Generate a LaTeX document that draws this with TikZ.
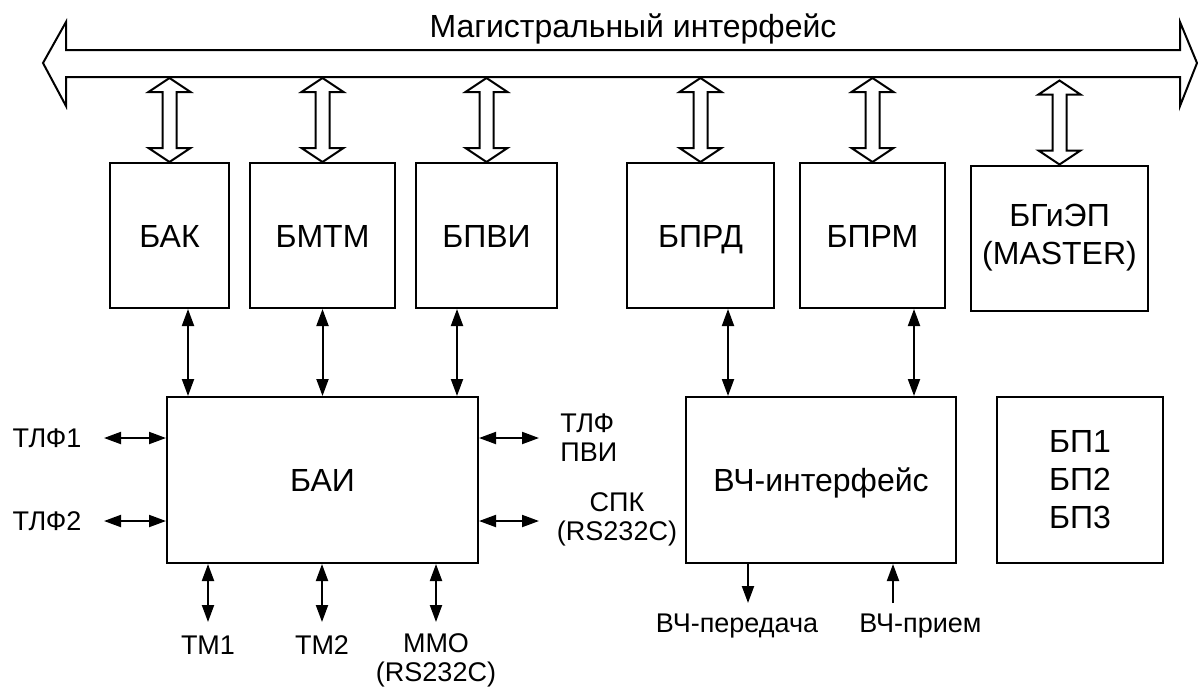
\documentclass[tikz,border=0pt]{standalone}
\usepackage{fontspec}
\setmainfont{Liberation Sans}
\usetikzlibrary{arrows.meta}

\begin{document}
\begin{tikzpicture}[x=0.5pt,y=-0.5pt,
  >={Triangle[length=8.5pt,width=6pt]},
  block/.style={draw,line width=1pt,font=\fontsize{16}{19}\selectfont,align=center,inner sep=0pt},
  top/.style={block,minimum width=#1*0.5pt,minimum height=72.5pt},
  low/.style={block,minimum width=#1*0.5pt,minimum height=83pt},
  one/.style={text height=11.5pt,text depth=0pt},
  lbl/.style={font=\fontsize{13.5}{14.5}\selectfont,align=center,inner sep=0pt},
  link/.style={line width=1pt},
  hollow/.style={draw,line width=1pt,fill=white,line join=miter},
  ]
  \useasboundingbox (0,0) rectangle (1198,687);
  \draw[hollow] (43,63) -- (66,22) -- (66,50) -- (1180,50) -- (1180,22) -- (1197,63)
    -- (1180,106) -- (1180,77) -- (66,77) -- (66,106) -- cycle;
  \node[font=\fontsize{16}{19}\selectfont,anchor=base] (bustitle) at (633,37) {Магистральный интерфейс};

  \node[top=119,one] (bak) at (169.5,235.5) {БАК};
  \node[top=145,one] (bmtm) at (322.5,235.5) {БМТМ};
  \node[top=141,one] (bpvi) at (486.5,235.5) {БПВИ};
  \node[top=147,one] (bprd) at (700.5,235.5) {БПРД};
  \node[top=145,one] (bprm) at (872.5,235.5) {БПРМ};
  \node[top=177] (bgep) at (1059.5,238) {БГиЭП\\(MASTER)};

  \node[low=311,one] (bai) at (322.5,480) {БАИ};
  \node[low=270,one] (vch) at (821,480) {ВЧ-интерфейс};
  \node[low=166] (bp) at (1080,480) {БП1\\БП2\\БП3};

  \foreach \b in {bak,bmtm,bpvi,bprd,bprm,bgep}
    \draw[hollow] (\b.north) -- ++(21,-14) -- ++(-14,0) -- ++(0,-56) -- ++(14,0) -- ++(-21,-14)
      -- ++(-21,14) -- ++(14,0) -- ++(0,56) -- ++(-14,0) -- cycle;

  \coordinate (c1) at (188,0);
  \coordinate (c2) at (457,0);
  \coordinate (c3) at (728,0);
  \coordinate (c4) at (914,0);
  \draw[link,<->] (bak.south -| c1) -- (bai.north -| c1);
  \draw[link,<->] (bmtm.south) -- (bmtm.south |- bai.north);
  \draw[link,<->] (bpvi.south -| c2) -- (bai.north -| c2);
  \draw[link,<->] (bprd.south -| c3) -- (vch.north -| c3);
  \draw[link,<->] (bprm.south -| c4) -- (vch.north -| c4);

  \node[lbl] (tlf1) at (47,438) {ТЛФ1};
  \node[lbl] (tlf2) at (47,521) {ТЛФ2};
  \node[lbl,anchor=west,align=left] (tlfpvi) at (560,437.5) {ТЛФ\\ПВИ};
  \node[lbl] (spk) at (617,519) {СПК\\(RS232C)};
  \node[lbl] (tm1) at (208,645) {ТМ1};
  \node[lbl] (tm2) at (322,645) {ТМ2};
  \node[lbl] (mmo) at (436,660) {ММО\\(RS232C)};
  \node[lbl] (vcht) at (737,626) {ВЧ-передача};
  \node[lbl,anchor=west] (vchr) at (859,626) {ВЧ-прием};

  \coordinate (e1) at (104,438);
  \coordinate (e2) at (104,521);
  \coordinate (e3) at (539,438);
  \coordinate (e4) at (539,521);
  \coordinate (e5) at (208,622);
  \coordinate (e6) at (322,622);
  \coordinate (e7) at (436,622);
  \coordinate (e8) at (748,603);
  \coordinate (e9) at (893,603);
  \draw[link,<->] (e1) -- (e1 -| bai.west);
  \draw[link,<->] (e2) -- (e2 -| bai.west);
  \draw[link,<->] (bai.east |- e3) -- (e3);
  \draw[link,<->] (bai.east |- e4) -- (e4);
  \draw[link,<->] (bai.south -| e5) -- (e5);
  \draw[link,<->] (bai.south -| e6) -- (e6);
  \draw[link,<->] (bai.south -| e7) -- (e7);
  \draw[link,->] (vch.south -| e8) -- (e8);
  \draw[link,->] (e9) -- (vch.south -| e9);
\end{tikzpicture}
\end{document}
